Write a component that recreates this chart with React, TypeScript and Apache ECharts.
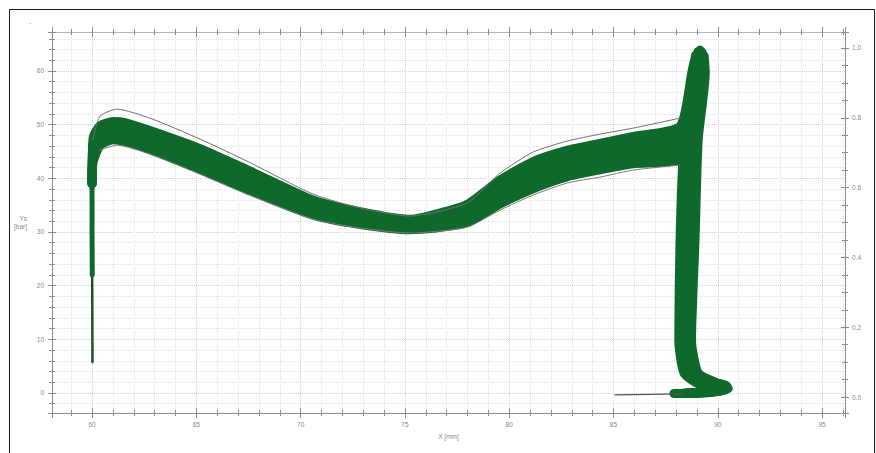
import React, { useEffect, useRef } from "react";
import * as echarts from "echarts";

// Axis ranges
const X_MIN = 58.08;
const X_MAX = 96.1;
const Y_MIN = -3.73;
const Y_MAX = 67.26;
const R_MIN = -0.0458;
const R_MAX = 1.0458;

const xAxisName = "X [mm]";
const yAxisName = "Ys\n[bar]";

// Thin start stub of the bundle, and its widening part
const startStub = [[60.02, 5.77], [60.01, 18], [60.0, 30], [60.0, 38]];
const startRise = [[60.01, 22], [60.0, 30], [60.0, 40]];

// Five curves across the bundle (upper edge -> lower edge)
const curve1 = [
  [60.0, 39], [60.05, 47.48], [60.38, 49.81], [61.01, 50.59], [61.58, 50.39], [62.78, 48.9], [65.18, 45.52],
  [67.43, 41.62], [70.59, 35.96], [72.85, 33.78], [75.24, 32.35], [76.35, 33.2], [77.98, 35.14], [79.56, 39.66],
  [81.14, 43.13], [82.77, 45.2], [84.35, 46.5], [85.94, 47.79], [88.19, 49.71],
  [88.75, 59.59], [88.95, 63.0], [88.75, 59.59], [88.38, 47.11], [88.19, 28.49], [88.13, 9.87], [88.38, 3.72],
  [89.1, 1.6], [89.7, 1.0], [89.8, 0.4], [89.1, 0.0], [87.9, -0.1],
];
const curve2 = [
  [60.0, 39], [60.05, 46.37], [60.38, 48.88], [61.01, 49.74], [61.58, 49.5], [62.78, 48.01], [65.18, 44.55],
  [67.43, 40.69], [70.59, 35.25], [72.85, 33.19], [75.24, 31.86], [76.35, 32.57], [77.98, 34.28], [79.56, 38.55],
  [81.14, 41.86], [82.77, 43.96], [84.35, 45.27], [85.94, 46.52], [88.19, 48.18],
  [88.91, 59.59], [89.05, 63.6], [88.91, 59.59], [88.55, 47.11], [88.37, 28.49], [88.28, 9.87], [88.55, 3.72],
  [89.3, 1.7], [89.9, 1.1], [90.1, 0.5], [89.4, 0.1], [88.0, -0.1],
];
const curve3 = [
  [60.0, 39], [60.05, 45.25], [60.38, 47.95], [61.01, 48.88], [61.58, 48.6], [62.78, 47.11], [65.18, 43.58],
  [67.43, 39.76], [70.59, 34.54], [72.85, 32.59], [75.24, 31.38], [76.35, 31.94], [77.98, 33.43], [79.56, 37.43],
  [81.14, 40.6], [82.77, 42.74], [84.35, 44.04], [85.94, 45.26], [88.19, 46.65],
  [89.08, 59.59], [89.15, 63.9], [89.08, 59.59], [88.72, 47.11], [88.55, 28.49], [88.44, 9.87], [88.72, 3.72],
  [89.5, 1.8], [90.1, 1.2], [90.3, 0.6], [89.6, 0.1], [88.2, -0.1],
];
const curve4 = [
  [60.0, 39], [60.05, 44.13], [60.38, 47.02], [61.01, 48.02], [61.58, 47.71], [62.78, 46.22], [65.18, 42.61],
  [67.43, 38.83], [70.59, 33.83], [72.85, 32.0], [75.24, 30.9], [76.35, 31.3], [77.98, 32.57], [79.56, 36.31],
  [81.14, 39.33], [82.77, 41.51], [84.35, 42.81], [85.94, 43.99], [88.19, 45.12],
  [89.24, 59.59], [89.25, 63.5], [89.24, 59.59], [88.89, 47.11], [88.73, 28.49], [88.59, 9.87], [88.89, 3.72],
  [89.7, 1.9], [90.25, 1.3], [90.4, 0.7], [89.8, 0.2], [88.4, 0.0],
];
const curve5 = [
  [60.0, 39], [60.05, 43.02], [60.38, 46.09], [61.01, 47.17], [61.58, 46.82], [62.78, 45.33], [65.18, 41.64],
  [67.43, 37.9], [70.59, 33.12], [72.85, 31.4], [75.24, 30.41], [76.35, 30.67], [77.98, 31.71], [79.56, 35.2],
  [81.14, 38.06], [82.77, 40.27], [84.35, 41.58], [85.94, 42.72], [88.19, 43.59],
  [89.4, 59.59], [89.35, 62.8], [89.4, 59.59], [89.06, 47.11], [88.91, 28.49], [88.74, 9.87], [89.06, 3.72],
  [89.9, 2.0], [90.4, 1.4], [90.5, 0.8], [89.9, 0.3], [88.6, 0.1],
];

// Grey outline curves at the edges of the bundle
const outlineTop = [
  [60.02, 47.11], [60.38, 51.58], [61.2, 52.89], [62.78, 51.21], [65.18, 47.3], [67.43, 43.2], [70.59, 37.06],
  [72.85, 34.45], [75.24, 32.96], [77.98, 35.38], [79.56, 40.97], [81.14, 44.88], [82.77, 46.93], [84.35, 48.23],
  [85.94, 49.35], [88.19, 51.21],
];
const outlineBottom = [
  [60.38, 45.25], [61.2, 46.18], [62.78, 44.51], [65.18, 40.78], [67.43, 37.06], [70.59, 32.4], [72.85, 30.73],
  [75.24, 29.8], [77.98, 30.91], [79.56, 34.08], [81.14, 36.87], [82.77, 39.11], [84.35, 40.22], [85.94, 41.53],
  [88.19, 42.46],
];
const tail = [[85.07, -0.37], [86.8, -0.25], [88.3, -0.15]];

const GREEN = "#0f692d";
const axisColor = "#8c8c8c";
const labelStyle = { color: "#8a8a8a", fontSize: 6.5, fontFamily: "Liberation Sans, Arial, sans-serif" };

function lineSeries(data: number[][], color: string, width: number, z = 2, cap = "round") {
  return {
    type: "line",
    data,
    xAxisIndex: 0,
    yAxisIndex: 0,
    showSymbol: false,
    symbol: "none",
    smooth: 0.2,
    z,
    lineStyle: { color, width, cap, join: "round" },
    silent: true,
  };
}

function overlayX(position: string, inside: boolean) {
  return {
    type: "value",
    min: X_MIN,
    max: X_MAX,
    splitNumber: 8,
    position,
    axisLine: { show: false, onZero: false },
    axisTick: { show: true, inside, length: 5, lineStyle: { color: axisColor } },
    minorTick: { show: true, splitNumber: 5, length: 3, lineStyle: { color: axisColor } },
    axisLabel: { show: false },
    splitLine: { show: false },
  };
}

function overlayY(position: string, inside: boolean, min: number, max: number, splitNumber: number, minorSplit: number) {
  return {
    type: "value",
    min,
    max,
    splitNumber,
    position,
    axisLine: { show: false, onZero: false },
    axisTick: { show: true, inside, length: 4, lineStyle: { color: axisColor } },
    minorTick: { show: true, splitNumber: minorSplit, length: 3, lineStyle: { color: axisColor } },
    axisLabel: { show: false },
    splitLine: { show: false },
  };
}

const option = {
  animation: false,
  backgroundColor: "#ffffff",
  grid: { left: 52, right: 31, top: 32, bottom: 40, containLabel: false },
  xAxis: [
    {
      type: "value",
      min: X_MIN,
      max: X_MAX,
      splitNumber: 8,
      position: "bottom",
      name: xAxisName,
      nameLocation: "middle",
      nameGap: 19,
      nameTextStyle: labelStyle,
      axisLine: { show: true, onZero: false, lineStyle: { color: axisColor } },
      axisTick: { show: true, length: 5, lineStyle: { color: axisColor } },
      minorTick: { show: true, splitNumber: 5, length: 3, lineStyle: { color: axisColor } },
      axisLabel: { ...labelStyle, margin: 8, showMinLabel: false, showMaxLabel: false },
      splitLine: { show: true, lineStyle: { color: "#d2d2d2", type: "dotted" } },
      minorSplitLine: { show: true, lineStyle: { color: "#e4e4e4", type: "dotted" } },
    },
    overlayX("bottom", true),
    {
      ...overlayX("top", false),
      axisLine: { show: true, onZero: false, lineStyle: { color: "#b5b5b5" } },
    },
    overlayX("top", true),
  ],
  yAxis: [
    {
      type: "value",
      min: Y_MIN,
      max: Y_MAX,
      splitNumber: 7,
      position: "left",
      name: yAxisName,
      nameLocation: "middle",
      nameRotate: 0,
      nameGap: 25,
      nameTextStyle: { ...labelStyle, lineHeight: 8 },
      axisLine: { show: true, onZero: false, lineStyle: { color: axisColor } },
      axisTick: { show: true, length: 4, lineStyle: { color: axisColor } },
      minorTick: { show: true, splitNumber: 5, length: 3, lineStyle: { color: axisColor } },
      axisLabel: { ...labelStyle, margin: 8, showMinLabel: false, showMaxLabel: false },
      splitLine: { show: true, lineStyle: { color: "#d2d2d2", type: "dotted" } },
      minorSplitLine: { show: true, lineStyle: { color: "#e4e4e4", type: "dotted" } },
    },
    overlayY("left", true, Y_MIN, Y_MAX, 7, 5),
    {
      type: "value",
      min: R_MIN,
      max: R_MAX,
      splitNumber: 5,
      position: "right",
      axisLine: { show: true, onZero: false, lineStyle: { color: axisColor } },
      axisTick: { show: true, length: 4, lineStyle: { color: axisColor } },
      minorTick: { show: true, splitNumber: 4, length: 3, lineStyle: { color: axisColor } },
      axisLabel: {
        ...labelStyle,
        margin: 7,
        showMinLabel: false,
        showMaxLabel: false,
        formatter: (v: number) => v.toFixed(1),
      },
      splitLine: { show: false },
    },
    overlayY("right", true, R_MIN, R_MAX, 5, 4),
  ],
  graphic: [
    {
      type: "rect",
      silent: true,
      shape: { x: 9.5, y: 9.5, width: 865, height: 470 },
      style: { fill: "none", stroke: "#1a1a1a", lineWidth: 1 },
    },
    {
      type: "text",
      silent: true,
      x: 29,
      y: 19,
      style: { text: "-", fill: "#9a9a9a", fontSize: 7 },
    },
  ],
  series: [
    lineSeries(startStub, "#1e4f2c", 2.5, 3),
    lineSeries(startRise, GREEN, 5, 3),
    lineSeries(curve1, GREEN, 9, 3),
    lineSeries(curve2, GREEN, 9, 3),
    lineSeries(curve3, GREEN, 9, 3),
    lineSeries(curve4, GREEN, 9, 3),
    lineSeries(curve5, GREEN, 9, 3),
    lineSeries(outlineTop, "#707070", 1, 4),
    lineSeries(outlineBottom, "#7a7a7a", 1, 4),
    lineSeries(tail, "#555555", 1.2, 4),
  ],
};

export default function App() {
  const ref = useRef<HTMLDivElement>(null);
  useEffect(() => {
    if (!ref.current) return;
    const chart = echarts.init(ref.current, null, { renderer: "svg" });
    chart.setOption(option as any);
    return () => chart.dispose();
  }, []);
  return (
    <div
      ref={ref}
      style={{ position: "absolute", left: 0, top: 0, width: 876, height: 453, background: "#ffffff" }}
    />
  );
}
